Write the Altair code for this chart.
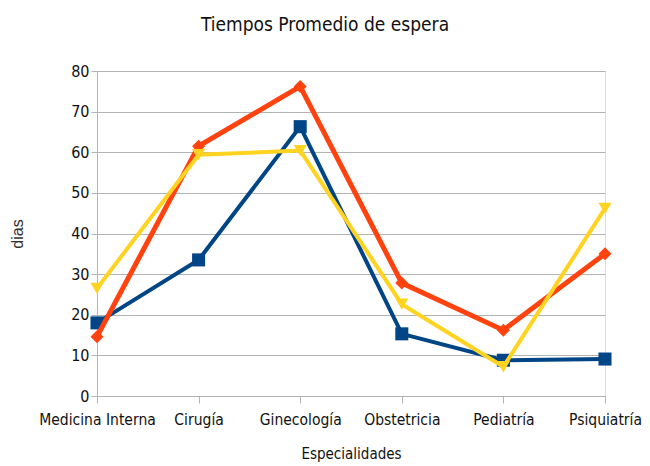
import altair as alt
import pandas as pd

categories = ["Medicina Interna", "Cirugía", "Ginecología", "Obstetricia", "Pediatría", "Psiquiatría"]
serie_1 = [18, 33.5, 66.3, 15.3, 8.8, 9.1]
serie_2 = [14.6, 61.5, 76.2, 27.8, 16.2, 35]
serie_3 = [26.5, 59.4, 60.4, 22.6, 7.2, 46.2]
series_names = ["Serie 1", "Serie 2", "Serie 3"]
colors = ["#004586", "#ff420e", "#ffd320"]
shapes = ["square", "diamond", "triangle-down"]

rows = []
for name, vals in zip(series_names, [serie_1, serie_2, serie_3]):
    for i, (c, v) in enumerate(zip(categories, vals)):
        rows.append({"Especialidad": c, "valor": v, "serie": name, "orden": i})
df = pd.DataFrame(rows)

FONT = "'DejaVu Sans Condensed', 'Liberation Sans', sans-serif"

x_enc = alt.X("Especialidad:N", sort=categories,
              scale=alt.Scale(type="point", padding=0),
              axis=alt.Axis(title="Especialidades", labelAngle=0, grid=False,
                            domainColor="#b3b3b3", tickColor="#b3b3b3", tickSize=7,
                            labelFont=FONT, labelFontSize=15.5, labelColor="#111",
                            labelPadding=9, titleFont=FONT, titleFontSize=15,
                            titleFontWeight="normal", titleColor="#111", titlePadding=19))
y_enc = alt.Y("valor:Q", scale=alt.Scale(domain=[0, 80], nice=False),
              axis=alt.Axis(title="dias", values=list(range(0, 81, 10)),
                            gridColor="#b3b3b3", domainColor="#b3b3b3", tickColor="#b3b3b3",
                            tickSize=6, labelFont=FONT, labelFontSize=16, labelColor="#111",
                            labelPadding=2, titleFont="Liberation Sans", titleFontSize=16,
                            titleFontWeight="normal", titleColor="#333", titlePadding=45))

layers = []
for name, col, shp, lw in zip(series_names, colors, shapes, [4, 5, 4]):
    sub = df[df.serie == name]
    base = alt.Chart(sub).encode(x=x_enc, y=y_enc, order="orden:Q")
    layers.append(base.mark_line(color=col, strokeWidth=lw, strokeJoin="miter"))
    layers.append(base.mark_point(shape=shp, filled=True, color=col, size=170, opacity=1))

chart = alt.layer(*layers).properties(
    width=508, height=325,
    autosize=alt.AutoSizeParams(type="none"),
    padding={"left": 89, "top": 63, "right": 37, "bottom": 70},
    title=alt.TitleParams("Tiempos Promedio de espera", font=FONT, fontSize=19,
                          fontWeight="normal", color="#111", dx=-26, offset=28)
).configure_view(stroke="#b3b3b3", strokeWidth=1).configure(background="white")

chart.save("out.html", embed_options={"renderer": "svg", "actions": False})
